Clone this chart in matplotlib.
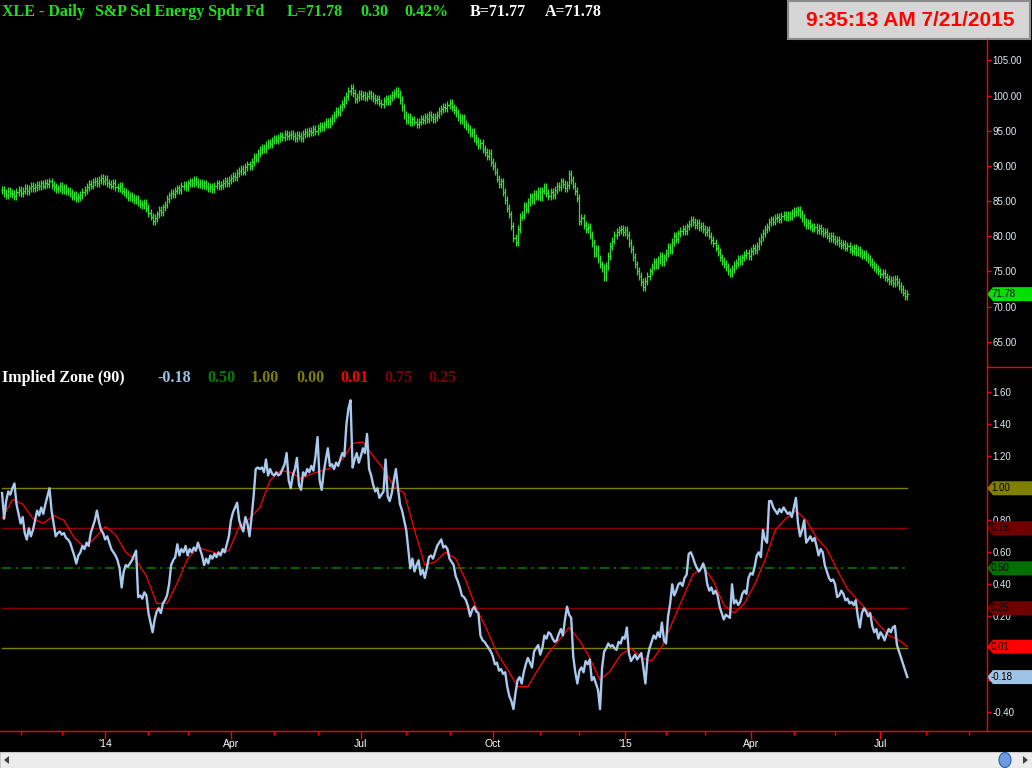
import numpy as np
import pandas as pd
import matplotlib
matplotlib.use("Agg")
import matplotlib.pyplot as plt
from matplotlib.patches import Polygon, Rectangle, Ellipse
from matplotlib.lines import Line2D

# XLE daily closes, 2013-10-21 .. 2015-07-21
close = [
    86.6, 86.2, 85.9, 86.4, 86.1, 86.0, 85.7, 86.3, 86.6, 86.2, 86.5, 86.9, 86.4, 86.8, 87.2, 86.9, 87.0, 87.3, 87.1, 87.5,
    87.2, 87.6, 87.4, 87.8, 87.3, 87.0, 86.7, 86.8, 87.1, 86.6, 86.9, 86.4, 86.5, 86.1, 85.7, 85.9, 85.4, 85.6, 85.9, 86.3,
    86.6, 87.0, 87.4, 87.2, 87.7, 87.9, 87.6, 88.0, 88.3, 87.9, 88.1, 87.6, 87.4, 87.2, 87.6, 87.0, 86.8, 87.1, 86.5, 86.3,
    86.0, 85.6, 85.8, 85.4, 85.1, 85.3, 84.8, 84.6, 84.4, 84.8, 84.0, 83.3, 82.8, 82.2, 82.6, 83.1, 83.7, 83.4, 84.1, 84.5,
    85.3, 85.8, 86.2, 86.0, 86.5, 86.8, 86.6, 87.1, 87.3, 87.0, 87.5, 87.8, 87.6, 88.0, 87.7, 87.4, 87.6, 87.3, 87.5, 87.1,
    86.8, 87.0, 86.7, 87.2, 87.5, 87.1, 87.3, 87.6, 87.9, 87.6, 88.0, 88.3, 88.6, 88.4, 89.0, 89.3, 89.6, 89.2, 89.8, 90.2,
    90.0, 90.6, 91.3, 91.1, 91.8, 92.3, 92.6, 92.4, 93.0, 93.3, 93.1, 93.6, 93.9, 93.7, 94.0, 94.3, 94.1, 94.5, 94.2, 94.4,
    94.6, 94.3, 94.0, 94.4, 94.2, 94.0, 94.5, 94.8, 94.6, 95.0, 94.8, 95.2, 95.0, 95.4, 95.7, 95.5, 95.9, 96.2, 96.0, 96.4,
    96.8, 97.3, 97.8, 97.6, 98.3, 98.8, 99.4, 99.9, 100.6, 101.1, 100.4, 99.5, 99.8, 100.2, 99.9, 100.1, 99.7, 100.0, 100.3, 99.9,
    99.6, 99.3, 99.5, 99.0, 98.8, 99.2, 99.5, 99.2, 99.7, 100.1, 100.4, 100.6, 100.2, 99.4, 98.3, 97.2, 96.5, 97.0, 96.2, 96.6,
    96.3, 95.9, 96.3, 96.7, 96.5, 96.9, 96.7, 97.2, 96.9, 96.6, 97.0, 97.3, 97.8, 98.1, 98.4, 98.2, 98.6, 98.9, 98.3, 97.9,
    97.5, 97.0, 96.5, 96.8, 96.0, 95.6, 95.2, 94.6, 94.8, 94.0, 93.5, 93.0, 93.3, 92.4, 92.0, 91.4, 91.8, 90.6, 90.0, 89.2,
    88.2, 87.4, 87.8, 86.3, 85.2, 84.0, 83.1, 81.5, 79.8, 79.2, 81.0, 82.8, 83.0, 84.3, 83.8, 84.9, 85.6, 85.2, 86.0, 85.7,
    86.4, 85.6, 86.5, 87.0, 86.2, 85.7, 86.3, 85.9, 86.6, 87.2, 87.0, 87.8, 87.4, 86.9, 87.3, 88.8, 88.0, 87.2, 86.4, 85.4,
    82.2, 82.6, 81.6, 81.0, 81.3, 80.2, 79.0, 77.6, 78.2, 76.8, 76.0, 75.5, 74.2, 75.8, 77.2, 78.6, 79.4, 80.2, 80.6, 80.9,
    81.1, 80.6, 80.9, 80.2, 79.0, 78.2, 77.1, 76.0, 75.1, 74.4, 73.5, 72.8, 73.6, 74.4, 75.0, 75.7, 76.4, 75.9, 76.6, 77.2,
    76.4, 77.0, 77.6, 78.5, 78.0, 79.2, 80.0, 79.6, 80.4, 80.8, 81.0, 80.7, 81.4, 81.8, 82.3, 82.0, 81.6, 81.9, 81.3, 81.5,
    81.0, 80.6, 80.9, 80.1, 79.5, 79.0, 78.4, 77.8, 77.0, 76.5, 76.1, 75.6, 75.0, 74.8, 75.4, 75.9, 76.2, 76.8, 76.5, 77.0,
    77.3, 77.6, 77.2, 77.9, 78.3, 78.1, 78.6, 79.3, 79.9, 80.5, 81.0, 81.3, 82.0, 82.4, 82.1, 82.6, 82.8, 82.5, 82.9, 83.0,
    82.7, 83.1, 82.8, 83.3, 83.6, 83.4, 83.8, 83.2, 82.6, 82.0, 81.6, 81.9, 81.4, 81.1, 81.3, 80.9, 81.2, 80.7, 80.4, 80.6,
    80.1, 79.8, 80.0, 79.6, 79.3, 79.5, 79.0, 78.7, 78.9, 78.4, 78.6, 78.2, 77.9, 78.3, 77.8, 78.0, 77.6, 77.3, 77.5, 77.1,
    76.8, 76.4, 76.0, 75.6, 75.4, 75.0, 74.6, 74.8, 74.2, 74.0, 73.6, 73.8, 73.4, 73.9, 73.5, 72.9, 72.5, 72.0, 71.5, 71.78,
]

# Implied Zone (90), daily
zone = [
    0.97, 0.81, 0.92, 0.98, 0.96, 1.00, 1.03, 0.90, 0.84, 0.78, 0.82, 0.72, 0.68, 0.75, 0.70, 0.74, 0.80, 0.86, 0.83, 0.88,
    0.84, 0.90, 0.95, 1.00, 0.86, 0.78, 0.70, 0.72, 0.73, 0.71, 0.72, 0.69, 0.68, 0.66, 0.62, 0.58, 0.53, 0.58, 0.60, 0.64,
    0.62, 0.66, 0.64, 0.72, 0.76, 0.80, 0.86, 0.79, 0.74, 0.72, 0.68, 0.70, 0.66, 0.62, 0.60, 0.58, 0.55, 0.50, 0.38, 0.48,
    0.52, 0.51, 0.53, 0.55, 0.58, 0.61, 0.32, 0.33, 0.31, 0.35, 0.33, 0.22, 0.16, 0.10, 0.18, 0.23, 0.25, 0.22, 0.28, 0.30,
    0.33, 0.40, 0.52, 0.55, 0.57, 0.65, 0.58, 0.62, 0.60, 0.64, 0.58, 0.62, 0.60, 0.63, 0.61, 0.66, 0.62, 0.58, 0.52, 0.56,
    0.53, 0.58, 0.56, 0.59, 0.57, 0.60, 0.58, 0.62, 0.60, 0.65, 0.70, 0.80, 0.85, 0.88, 0.91, 0.80, 0.76, 0.73, 0.82, 0.78,
    0.70, 0.82, 0.95, 1.12, 1.13, 1.12, 1.13, 1.10, 1.18, 1.08, 1.12, 1.09, 1.08, 1.10, 1.08, 1.09, 1.12, 1.15, 1.22, 1.05,
    1.00, 1.08, 1.12, 1.19, 1.02, 0.99, 1.10, 1.08, 1.12, 1.10, 1.14, 1.11, 1.20, 1.32, 1.05, 0.99, 1.10, 1.18, 1.25, 1.14,
    1.15, 1.12, 1.16, 1.14, 1.18, 1.22, 1.20, 1.40, 1.50, 1.55, 1.13, 1.18, 1.22, 1.16, 1.20, 1.25, 1.22, 1.34, 1.12, 1.08,
    1.02, 0.98, 1.00, 0.94, 0.96, 0.98, 1.18, 0.95, 0.92, 0.97, 1.05, 1.12, 1.00, 0.90, 0.86, 0.80, 0.74, 0.62, 0.50, 0.56,
    0.48, 0.52, 0.55, 0.46, 0.49, 0.44, 0.50, 0.57, 0.58, 0.56, 0.60, 0.64, 0.66, 0.68, 0.63, 0.64, 0.62, 0.56, 0.54, 0.52,
    0.45, 0.42, 0.38, 0.33, 0.32, 0.30, 0.26, 0.20, 0.24, 0.26, 0.23, 0.22, 0.08, 0.05, 0.04, 0.02, 0.00, -0.02, -0.05, -0.10,
    -0.09, -0.14, -0.13, -0.16, -0.15, -0.24, -0.30, -0.33, -0.38, -0.28, -0.20, -0.18, -0.22, -0.15, -0.10, -0.06, -0.09, -0.12, -0.02, 0.00,
    0.02, -0.04, 0.00, 0.08, 0.06, 0.10, 0.09, 0.06, 0.04, 0.05, 0.09, 0.12, 0.08, 0.18, 0.26, 0.21, 0.19, -0.05, -0.15, -0.22,
    -0.14, -0.12, -0.15, -0.08, -0.10, -0.07, -0.20, -0.18, -0.22, -0.26, -0.38, -0.12, -0.02, 0.00, 0.03, 0.01, 0.02, 0.00, -0.01, 0.04,
    0.03, 0.07, 0.06, 0.13, -0.03, -0.08, -0.06, -0.04, -0.07, -0.05, -0.03, -0.12, -0.22, -0.06, 0.00, 0.04, 0.08, 0.06, 0.10, 0.07,
    0.16, 0.05, 0.03, 0.20, 0.28, 0.40, 0.33, 0.36, 0.40, 0.41, 0.39, 0.44, 0.46, 0.59, 0.60, 0.57, 0.53, 0.50, 0.48, 0.50,
    0.53, 0.49, 0.40, 0.36, 0.38, 0.34, 0.36, 0.33, 0.26, 0.22, 0.18, 0.21, 0.20, 0.19, 0.40, 0.28, 0.30, 0.27, 0.29, 0.34,
    0.36, 0.34, 0.44, 0.47, 0.46, 0.51, 0.58, 0.60, 0.57, 0.74, 0.68, 0.66, 0.92, 0.92, 0.88, 0.86, 0.84, 0.87, 0.85, 0.88,
    0.86, 0.84, 0.85, 0.82, 0.88, 0.94, 0.78, 0.70, 0.74, 0.80, 0.66, 0.68, 0.70, 0.67, 0.69, 0.64, 0.58, 0.62, 0.60, 0.52,
    0.48, 0.44, 0.42, 0.43, 0.40, 0.32, 0.33, 0.36, 0.34, 0.30, 0.31, 0.28, 0.29, 0.27, 0.30, 0.20, 0.13, 0.22, 0.25, 0.23,
    0.20, 0.22, 0.14, 0.10, 0.12, 0.06, 0.10, 0.08, 0.05, 0.09, 0.12, 0.10, 0.13, 0.14, 0.02, -0.02, -0.06, -0.10, -0.14, -0.18,
]

# smoothed zone (red line), read every 5th bar plus the last bar
zone_avg = [
    0.81, 0.93, 0.90, 0.81, 0.78, 0.83, 0.80, 0.69, 0.63, 0.69,
    0.76, 0.71, 0.60, 0.55, 0.45, 0.28, 0.28, 0.41, 0.56, 0.63,
    0.61, 0.59, 0.61, 0.76, 0.81, 0.88, 1.05, 1.11, 1.10, 1.06,
    1.09, 1.11, 1.13, 1.18, 1.28, 1.29, 1.20, 1.12, 1.01, 0.97,
    0.74, 0.52, 0.54, 0.60, 0.56, 0.42, 0.25, 0.12, -0.03, -0.13,
    -0.24, -0.24, -0.13, -0.03, 0.05, 0.13, 0.05, -0.06, -0.20, -0.14,
    -0.04, 0.00, -0.06, -0.08, 0.01, 0.16, 0.31, 0.46, 0.51, 0.42,
    0.27, 0.22, 0.28, 0.40, 0.55, 0.74, 0.81, 0.86, 0.80, 0.69,
    0.62, 0.49, 0.37, 0.30, 0.23, 0.15, 0.08, 0.05, 0.01,
]

holidays = ["2013-11-28", "2013-12-25", "2014-01-01", "2014-01-20", "2014-02-17",
            "2014-04-18", "2014-05-26", "2014-07-04", "2014-09-01", "2014-11-27",
            "2014-12-25", "2015-01-01", "2015-01-19", "2015-02-16", "2015-04-03",
            "2015-05-25", "2015-07-03", "2015-09-07"]

levels = [1.00, 0.75, 0.50, 0.25, 0.00]
level_colors = ["#808000", "#8b0000", "#008000", "#8b0000", "#808000"]

W, H = 1032, 768
GREEN = "#2ee02e"
BLUE = "#a9c9ee"
AX_RIGHT = 987

fig = plt.figure(figsize=(W / 100, H / 100), dpi=100, facecolor="black")
ax1 = fig.add_axes([0, 401 / H, AX_RIGHT / W, 367 / H], facecolor="black")
ax2 = fig.add_axes([0, 37 / H, AX_RIGHT / W, 364 / H], facecolor="black")

n = len(close)
idx = np.arange(n)
c = np.array(close)
o = np.r_[c[0], c[:-1]]
wick = 0.55
hi = np.maximum(o, c) + wick
lo = np.minimum(o, c) - wick

# price bars
ax1.vlines(idx, lo, hi, color=GREEN, lw=0.9)
ax1.hlines(o, idx - 0.6, idx, color=GREEN, lw=0.9)
ax1.hlines(c, idx, idx + 0.6, color=GREEN, lw=0.9)
ax1.set_ylim(61.43, 113.57)

# oscillator panel
for lv, col in zip(levels, level_colors):
    if lv == 0.5:
        ax2.plot([0, n - 1], [lv, lv], color=col, lw=1.1, dashes=[6, 3, 1.5, 3])
    else:
        ax2.plot([0, n - 1], [lv, lv], color=col, lw=1.0)
avg_idx = np.append(np.arange(0, n, 5), n - 1)
ax2.plot(avg_idx, zone_avg, color="#ff0000", lw=0.9, zorder=3)
ax2.plot(idx, zone, color=BLUE, lw=1.7, zorder=4)
ax2.set_ylim(-0.517, 1.758)

xmax = -1 + AX_RIGHT / 2.062
for ax in (ax1, ax2):
    ax.set_xlim(-1, xmax)
    for s in ax.spines.values():
        s.set_visible(False)
    ax.yaxis.tick_right()
    ax.tick_params(axis="y", direction="out", length=3, width=1, color="#ff0000",
                   labelcolor="#e2eaf4", labelsize=7, pad=1)

ax1.set_yticks(np.arange(65, 106, 5))
ax1.set_yticklabels([f"{v:.2f}" for v in np.arange(65, 106, 5)], family="Liberation Sans")
ax1.set_xticks([])

# 0.00 and -0.20 sit fully under the value tags, so their labels stay blank
zt = np.round(np.arange(-0.4, 1.61, 0.2), 2)
ax2.set_yticks(zt)
ax2.set_yticklabels(["" if v in (0.0, -0.2) else f"{v + 0.0:.2f}" for v in zt],
                    family="Liberation Sans")

# month ticks
dates = pd.bdate_range("2013-10-21", "2015-09-30", freq="C", holidays=holidays)
months = pd.Series(dates.to_period("M"))
starts = np.where(months.ne(months.shift()))[0][1:]
major, labels, minor = [], [], []
for p in starts:
    d = dates[p]
    if d.month in (1, 4, 7, 10):
        major.append(p)
        labels.append("'" + d.strftime("%y") if d.month == 1 else d.strftime("%b"))
    else:
        minor.append(p)
ax2.set_xticks(major)
ax2.set_xticklabels(labels, family="Liberation Sans")
ax2.set_xticks(minor, minor=True)
ax2.tick_params(axis="x", which="major", length=6, width=1, color="#ff0000",
                labelcolor="white", labelsize=7.5, pad=0)
ax2.tick_params(axis="x", which="minor", length=3, width=1, color="#ff0000")

# frame lines
fig.add_artist(Line2D([AX_RIGHT / W] * 2, [37 / H, (H - 40) / H], color="#ff0000", lw=1))
fig.add_artist(Line2D([0, 1], [37 / H, 37 / H], color="#ff0000", lw=1))
fig.add_artist(Line2D([AX_RIGHT / W, 1], [401 / H, 401 / H], color="#ff0000", lw=1))


def tag(ax, v, text, fc):
    y = ax.transData.transform((0, v))[1]
    x0 = AX_RIGHT
    pts = [(x0, y), (x0 + 6, y + 7), (W, y + 7), (W, y - 7), (x0 + 6, y - 7)]
    fig.add_artist(Polygon([(px / W, py / H) for px, py in pts], closed=True,
                           transform=fig.transFigure, fc=fc, ec="none"))
    fig.text((x0 + 4) / W, y / H, text, color="black", fontsize=7,
             family="Liberation Sans", va="center", ha="left")


tag(ax1, close[-1], f"{close[-1]:.2f}", "#00e000")
tag(ax2, 1.00, "1.00", "#808000")
tag(ax2, 0.75, "0.75", "#700000")
tag(ax2, 0.50, "0.50", "#007000")
tag(ax2, 0.25, "0.25", "#700000")
tag(ax2, zone_avg[-1], f"{zone_avg[-1]:.2f}", "#ff0000")
tag(ax2, zone[-1], f"{zone[-1]:.2f}", "#9dc3e6")

# header texts
hfont = dict(family="Liberation Serif", weight="bold", fontsize=11.5, va="center", ha="left")
y_top = 1 - 12 / H
for x, s, col in [(2, "XLE - Daily", "#1fe01f"), (95, "S&P Sel Energy Spdr Fd", "#1fe01f"),
                  (287, "L=71.78", "#1fe01f"), (360, "0.30", "#1fe01f"),
                  (404, "0.42%", "#1fe01f"), (470, "B=71.77", "white"), (545, "A=71.78", "white")]:
    fig.text(x / W, y_top, s, color=col, **hfont)

y_zone = 1 - 378 / H
for x, s, col in [(2, "Implied Zone (90)", "white"), (157, f"{zone[-1]:.2f}", "#9dc3e6"),
                  (207, "0.50", "#008000"), (251, "1.00", "#808000"), (296, "0.00", "#808000"),
                  (340, f"{zone_avg[-1]:.2f}", "#ff0000"), (384, "0.75", "#800000"),
                  (428, "0.25", "#800000")]:
    fig.text(x / W, y_zone, s, color=col, **hfont)

# clock box
fig.add_artist(Rectangle((788 / W, (H - 39) / H), 242 / W, 38 / H, transform=fig.transFigure,
                         fc="#d6d6d6", ec="#8a8a8a", lw=1.5))
fig.text(910 / W, 1 - 20 / H, "9:35:13 AM 7/21/2015", color="#ff0000", fontsize=15,
         family="Liberation Sans", weight="bold", ha="center", va="center")

# scroll bar
fig.add_artist(Rectangle((0, 0), 1, 16 / H, transform=fig.transFigure, fc="#ececec", ec="#c8c8c8", lw=0.8))
fig.add_artist(Polygon([(4 / W, 8 / H), (9 / W, 12 / H), (9 / W, 4 / H)], transform=fig.transFigure, fc="#404040"))
fig.add_artist(Polygon([(1028 / W, 8 / H), (1023 / W, 12 / H), (1023 / W, 4 / H)], transform=fig.transFigure, fc="#404040"))
fig.add_artist(Ellipse((1005 / W, 8 / H), 12 / W, 15 / H, transform=fig.transFigure, fc="#6b9be0", ec="#2c5ca8", lw=0.8))

fig.savefig("out.png", dpi=100, facecolor="black")
